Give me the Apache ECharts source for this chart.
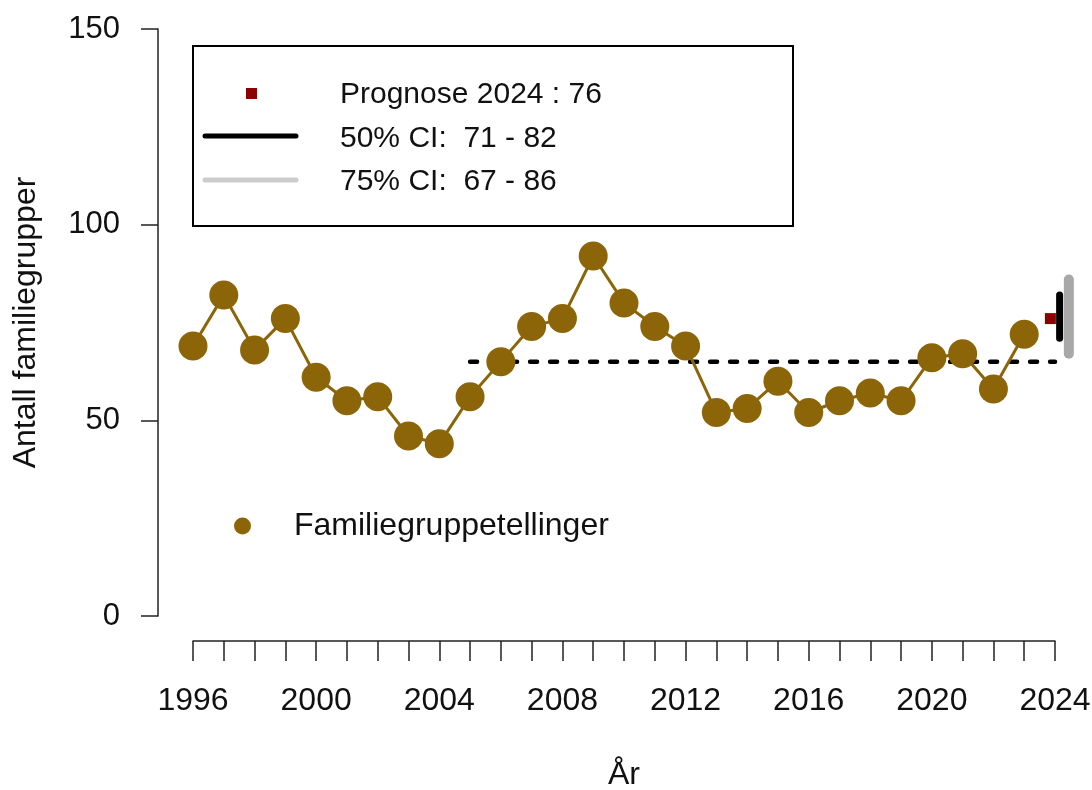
<!DOCTYPE html>
<html>
<head>
<meta charset="utf-8">
<title>Familiegrupper</title>
<script src="https://cdn.jsdelivr.net/npm/echarts@6/dist/echarts.min.js"></script>
<style>
  html, body { margin: 0; padding: 0; background: #fff; }
  #chart { width: 1092px; height: 790px; }
</style>
</head>
<body>
<div id="chart"></div>
<script>
// årlige tellinger
var years = [1996, 1997, 1998, 1999, 2000, 2001, 2002, 2003, 2004, 2005, 2006, 2007, 2008, 2009,
  2010, 2011, 2012, 2013, 2014, 2015, 2016, 2017, 2018, 2019, 2020, 2021, 2022, 2023];
var counts = [69, 82, 68, 76, 61, 55, 56, 46, 44, 56, 65, 74, 76, 92,
  80, 74, 69, 52, 53, 60, 52, 55, 57, 55, 66, 67, 58, 72];

// gjennomsnittslinje
var meanYears = [2005, 2024];
var meanValue = 65;

// prognose og konfidensintervall
var progYear = 2024;
var progValue = 76;
var ci50 = [71, 82];
var ci75 = [67, 86];
var yTicks = [0, 50, 100, 150];

var countName = 'Familiegruppetellinger';
var legendTexts = [
  'Prognose ' + progYear + ' : ' + progValue,
  '50% CI:  ' + ci50[0] + ' - ' + ci50[1],
  '75% CI:  ' + ci75[0] + ' - ' + ci75[1]
];

var font = 'Liberation Sans, Arial, Helvetica, sans-serif';
var txt = '#111';
var brown = '#8B6508';

// plottområdet: 1996..2024 går fra x=193 til x=1055
var plotLeft = 193, plotRight = 37, chartW = 1092;
var pxPerYear = (chartW - plotLeft - plotRight) / (progYear - years[0]);
// skjult akse med samme skala, men bredere, så prognosen ikke klippes
var wideMax = years[0] + (chartW - plotLeft - 2) / pxPerYear;

var chart = echarts.init(document.getElementById('chart'));

var countData = years.map(function (y, i) { return [y, counts[i]]; });
var meanData = meanYears.map(function (y) { return [y, meanValue]; });

var option = {
  animation: false,
  backgroundColor: '#fff',
  textStyle: { fontFamily: font, color: txt },
  grid: [
    { left: plotLeft, right: plotRight, top: 29, bottom: 174, outerBoundsMode: 'none' },
    { left: plotLeft, right: 2, top: 29, bottom: 174, outerBoundsMode: 'none' }
  ],
  legend: {
    data: [{ name: countName, icon: 'circle' }],
    left: 234,
    top: 510,
    padding: 0,
    itemWidth: 17,
    itemHeight: 17,
    textStyle: { fontSize: 32, color: txt, fontFamily: font, padding: [0, 0, 0, 38] }
  },
  xAxis: [
    {
      type: 'value',
      gridIndex: 0,
      min: years[0],
      max: progYear,
      interval: 1,
      offset: 25,
      splitLine: { show: false },
      axisLine: { show: true, onZero: false, lineStyle: { color: '#222', width: 1.5 } },
      axisTick: { show: true, length: 20, lineStyle: { color: '#222', width: 1.5 } },
      axisLabel: {
        margin: 44,
        fontSize: 32,
        color: txt,
        fontFamily: font,
        formatter: function (v) {
          return (v - years[0]) % 4 === 0 ? String(v) : '';
        }
      },
      name: 'År',
      nameLocation: 'middle',
      nameGap: 118,
      nameTextStyle: { fontSize: 32, color: txt, fontFamily: font }
    },
    {
      type: 'value',
      gridIndex: 1,
      min: years[0],
      max: wideMax,
      show: false,
      splitLine: { show: false }
    }
  ],
  yAxis: [
    {
      type: 'value',
      gridIndex: 0,
      min: yTicks[0],
      max: yTicks[yTicks.length - 1],
      interval: 50,
      offset: 35,
      splitLine: { show: false },
      axisLine: { show: true, onZero: false, lineStyle: { color: '#222', width: 1.5 } },
      axisTick: { show: true, length: 17, lineStyle: { color: '#222', width: 1.5 } },
      axisLabel: { margin: 38, fontSize: 31, color: txt, fontFamily: font },
      name: 'Antall familiegrupper',
      nameLocation: 'middle',
      nameGap: 116,
      nameTextStyle: { fontSize: 32, color: txt, fontFamily: font }
    },
    {
      type: 'value',
      gridIndex: 1,
      min: yTicks[0],
      max: yTicks[yTicks.length - 1],
      show: false,
      splitLine: { show: false }
    }
  ],
  series: [
    {
      name: 'mean',
      type: 'line',
      data: meanData,
      symbol: 'none',
      lineStyle: { color: '#000', width: 4.5, type: [7, 13], cap: 'round' },
      z: 1
    },
    {
      name: countName,
      type: 'line',
      data: countData,
      symbol: 'circle',
      symbolSize: 29,
      itemStyle: { color: brown },
      lineStyle: { color: brown, width: 3 },
      z: 2
    },
    {
      name: 'ci75',
      type: 'line',
      xAxisIndex: 1,
      yAxisIndex: 1,
      data: [[progYear + 0.45, ci75[0]], [progYear + 0.45, ci75[1]]],
      symbol: 'none',
      lineStyle: { color: '#a8a8a8', width: 10, cap: 'round' }
    },
    {
      name: 'ci50',
      type: 'line',
      xAxisIndex: 1,
      yAxisIndex: 1,
      data: [[progYear + 0.15, ci50[0]], [progYear + 0.15, ci50[1]]],
      symbol: 'none',
      lineStyle: { color: '#000', width: 7, cap: 'round' }
    },
    {
      name: 'prognose',
      type: 'scatter',
      xAxisIndex: 1,
      yAxisIndex: 1,
      data: [[progYear - 0.15, progValue]],
      symbol: 'rect',
      symbolSize: 11,
      itemStyle: { color: '#8B0000', opacity: 1 }
    }
  ],
  // forklaringsboksen øverst
  graphic: [
    {
      type: 'rect',
      shape: { x: 193, y: 46, width: 600, height: 180 },
      style: { fill: '#fff', stroke: '#000', lineWidth: 2 },
      z: 10
    },
    {
      type: 'rect',
      shape: { x: 246, y: 88, width: 11, height: 11 },
      style: { fill: '#8B0000' },
      z: 11
    },
    {
      type: 'line',
      shape: { x1: 205, y1: 136, x2: 296, y2: 136 },
      style: { stroke: '#000', lineWidth: 5, lineCap: 'round' },
      z: 11
    },
    {
      type: 'line',
      shape: { x1: 205, y1: 180, x2: 296, y2: 180 },
      style: { stroke: '#cccccc', lineWidth: 5, lineCap: 'round' },
      z: 11
    }
  ].concat(legendTexts.map(function (t, i) {
    return {
      type: 'text',
      left: 340,
      top: 80 + i * 43.5,
      z: 11,
      style: { text: t, fontSize: 30, fill: txt, fontFamily: font }
    };
  }))
};

chart.setOption(option);
</script>
</body>
</html>
